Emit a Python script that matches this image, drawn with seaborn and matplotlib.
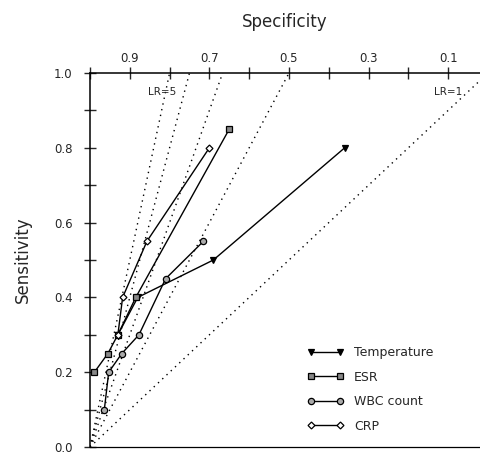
import pandas as pd
import matplotlib
matplotlib.use("Agg")
import matplotlib.pyplot as plt
import seaborn as sns

# ROC points (x = 1 - specificity, y = sensitivity)
temp_fpr = [0.64, 0.31, 0.12, 0.07]
temp_sens = [0.80, 0.50, 0.40, 0.30]
esr_fpr = [0.35, 0.115, 0.07, 0.045, 0.011]
esr_sens = [0.85, 0.40, 0.30, 0.25, 0.20]
wbc_fpr = [0.285, 0.19, 0.123, 0.08, 0.047, 0.036]
wbc_sens = [0.55, 0.45, 0.30, 0.25, 0.20, 0.10]
crp_fpr = [0.30, 0.143, 0.082, 0.07]
crp_sens = [0.80, 0.55, 0.40, 0.30]

series_names = ["Temperature", "ESR", "WBC count", "CRP"]
lr_values = [1, 2, 3, 4, 5]
spec_labels = ["0.9", "0.7", "0.5", "0.3", "0.1"]
sens_labels = ["0.0", "0.2", "0.4", "0.6", "0.8", "1.0"]

rows = []
for name, xs, ys in zip(series_names,
                        [temp_fpr, esr_fpr, wbc_fpr, crp_fpr],
                        [temp_sens, esr_sens, wbc_sens, crp_sens]):
    for i, (a, b) in enumerate(zip(xs, ys)):
        rows.append({"test": name, "fpr": a, "sens": b, "order": i})
df = pd.DataFrame(rows)

sns.set_style("white")
plt.rcParams["font.family"] = ["DejaVu Sans"]

fig = plt.figure(figsize=(4.81, 4.54), dpi=100)
ax = fig.add_axes([90 / 481, 7 / 454, 390 / 481, 374 / 454])

xmax = 0.98
# likelihood ratio reference lines
for lr in lr_values:
    x_end = min(1.0 / lr, xmax)
    ax.plot([0, x_end], [0, x_end * lr], color="black", lw=1.0,
            linestyle=(0, (1, 3.2)), zorder=1)
ax.text(0.18, 0.95, "LR=5", fontsize=7.5, ha="center", va="center")
ax.text(0.90, 0.95, "LR=1", fontsize=7.5, ha="center", va="center")

markers = {"Temperature": "v", "ESR": "s", "WBC count": "o", "CRP": "D"}
msizes = {"Temperature": 4.5, "ESR": 5, "WBC count": 4.5, "CRP": 3.5}
faces = {"Temperature": "black", "ESR": "#888888", "WBC count": "#aaaaaa", "CRP": "white"}
handles = []
for name in series_names:
    sub = df[df["test"] == name]
    sns.lineplot(data=sub, x="fpr", y="sens", sort=False, ax=ax, color="black",
                 lw=1.0, marker=markers[name], markersize=msizes[name],
                 markerfacecolor=faces[name], markeredgecolor="black",
                 markeredgewidth=0.9, zorder=3)
    handles.append(ax.lines[-1])

ax.legend(handles, series_names, numpoints=2, frameon=False, fontsize=9,
          handlelength=2.9, handletextpad=0.8, labelspacing=0.92,
          loc="upper left", bbox_to_anchor=(0.545, 0.283),
          borderaxespad=0)

ax.set_xlim(0, xmax)
ax.set_ylim(0, 1.0)

# left axis
ax.set_yticks([0.0, 0.2, 0.4, 0.6, 0.8, 1.0])
ax.set_yticklabels(sens_labels, fontsize=8.5)
ax.set_yticks([0.1, 0.3, 0.5, 0.7, 0.9], minor=True)
ax.tick_params(axis="y", which="both", direction="inout", left=True,
               length=9, width=1.0, pad=8)
ax.set_ylabel("Sensitivity", fontsize=12, labelpad=16)

# top axis shows specificity
ax.xaxis.tick_top()
ax.xaxis.set_label_position("top")
ax.set_xticks([0.1, 0.3, 0.5, 0.7, 0.9])
ax.set_xticklabels(spec_labels, fontsize=8.5)
ax.set_xticks([0.0, 0.2, 0.4, 0.6, 0.8], minor=True)
ax.tick_params(axis="x", which="both", direction="inout", top=True, bottom=False,
               length=9, width=1.0, pad=1.5)
ax.set_xlabel("Specificity", fontsize=12, labelpad=18)

for side in ["left", "top"]:
    ax.spines[side].set_linewidth(1.1)
    ax.spines[side].set_color("black")
ax.spines["bottom"].set_linewidth(0.9)
ax.spines["bottom"].set_color("black")
ax.spines["right"].set_visible(False)

fig.savefig("out.png", dpi=100)
